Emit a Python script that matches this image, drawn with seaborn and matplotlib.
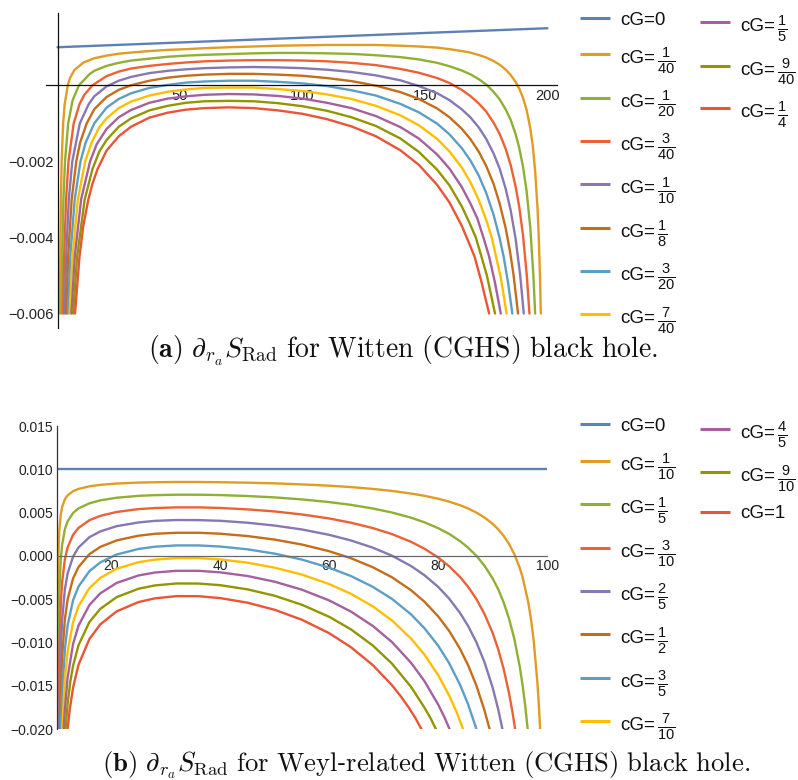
import matplotlib
matplotlib.use("Agg")
import matplotlib.pyplot as plt
import pandas as pd
import seaborn as sns
from matplotlib.lines import Line2D
from matplotlib.ticker import FixedLocator, MultipleLocator, FuncFormatter

# ---------------- panel (a): Witten (CGHS) ----------------
A_LABELS = ["cG=0", r"cG=$\frac{1}{40}$", r"cG=$\frac{1}{20}$", r"cG=$\frac{3}{40}$",
            r"cG=$\frac{1}{10}$", r"cG=$\frac{1}{8}$", r"cG=$\frac{3}{20}$",
            r"cG=$\frac{7}{40}$", r"cG=$\frac{1}{5}$", r"cG=$\frac{9}{40}$",
            r"cG=$\frac{1}{4}$"]

A0_X = [0, 50, 100, 150, 200]
A0_Y = [0.001, 0.001125, 0.00125, 0.001375, 0.0015]
A1_X = [1.00, 1.14, 1.39, 1.69, 2.30, 2.92, 4.19, 5.18, 6.89, 10.64, 15, 20, 25, 30, 37.5, 45, 52.5, 60,
        70, 80, 90, 100, 110, 120, 130, 140, 147.5, 155, 160, 165, 168.5, 172, 175, 178, 180.5, 183,
        185, 187, 188.5, 190, 191.5, 193, 194, 195, 196, 196.5, 197, 197.3]
A1_Y = [-0.006, -0.0045, -0.003, -0.002, -0.001, -0.0005, 0.0, 0.0002, 0.0004, 0.0006, 0.00071, 0.00078,
        0.00083, 0.00086, 0.0009, 0.00093, 0.00095, 0.000975, 0.001, 0.00102, 0.00104, 0.00105, 0.00106,
        0.00106, 0.00106, 0.00104, 0.00102, 0.00099, 0.00095, 0.0009, 0.00086, 0.000795, 0.00073,
        0.000638, 0.00054, 0.00041, 0.00027, 0.00009, -0.00009, -0.000325, -0.00065, -0.00113, -0.00159,
        -0.00226, -0.00329, -0.00406, -0.00512, -0.006]
A2_X = [1.63, 1.91, 2.42, 3.05, 4.36, 6.14, 8.75, 13.2, 15, 20, 25, 30, 37.5, 45, 52.5, 60, 70, 80, 90,
        100, 110, 120, 130, 140, 147.5, 155, 160, 165, 168.5, 172, 175, 178, 180.5, 183, 185, 187, 188.5,
        190, 191.5, 193, 194.26, 194.98]
A2_Y = [-0.006, -0.0045, -0.003, -0.002, -0.001, -0.0004, 0.0, 0.0003, 0.00038, 0.00051, 0.00059, 0.00065,
        0.0007, 0.00075, 0.00078, 0.0008, 0.00082, 0.00084, 0.00085, 0.00085, 0.00084, 0.000825, 0.00079,
        0.00074, 0.00068, 0.00059, 0.0005, 0.00039, 0.00029, 0.00016, 0.00002, -0.00017, -0.00037,
        -0.00064, -0.00091, -0.00128, -0.00165, -0.00213, -0.00278, -0.00374, -0.005, -0.006]
A3_X = [2.27, 2.71, 3.50, 4.49, 6.61, 8.96, 10.96, 14.27, 20, 25, 30, 37.5, 45, 52.5, 60, 70, 80, 90, 100,
        110, 120, 130, 140, 147.5, 155, 160, 165, 168.5, 172, 175, 178, 180.5, 183, 185, 187, 188.5, 190,
        191.58, 192.66]
A3_Y = [-0.006, -0.0045, -0.003, -0.002, -0.001, -0.0005, -0.00025, 0.0, 0.00024, 0.00036, 0.00044,
        0.00051, 0.00056, 0.0006, 0.00063, 0.00065, 0.00066, 0.00066, 0.00065, 0.00063, 0.00059, 0.00053,
        0.00043, 0.00033, 0.00019, 0.00006, -0.00012, -0.00028, -0.00048, -0.00069, -0.00098, -0.00128,
        -0.00168, -0.0021, -0.00266, -0.0032, -0.00393, -0.005, -0.006]
A4_X = [2.92, 3.52, 4.61, 6.03, 9.11, 12.69, 15, 20, 25, 30, 37.5, 45, 52.5, 60, 70, 80, 90, 100, 110, 120,
        130, 140, 147.5, 155, 160, 165, 168.5, 172, 175, 178, 180.5, 183, 185, 187, 188.89, 190.34]
A4_Y = [-0.006, -0.0045, -0.003, -0.002, -0.001, -0.0005, -0.00029, -0.00003, 0.00012, 0.00022, 0.00032,
        0.00038, 0.00042, 0.00045, 0.00047, 0.00048, 0.00047, 0.00045, 0.00041, 0.00035, 0.00026, 0.00013,
        -0.00002, -0.00021, -0.00039, -0.00063, -0.00084, -0.00111, -0.00141, -0.00179, -0.00219,
        -0.00273, -0.00329, -0.00403, -0.005, -0.006]
A5_X = [3.58, 4.36, 5.78, 7.66, 9.25, 11.93, 15, 20, 25, 30, 37.5, 45, 52.5, 60, 70, 80, 90, 100, 110, 120,
        130, 140, 147.5, 155, 160, 165, 168.5, 172, 175, 178, 180.5, 183, 184.8, 186.19, 188.0]
A5_Y = [-0.006, -0.0045, -0.003, -0.002, -0.0015, -0.001, -0.00063, -0.00031, -0.00012, 0.0, 0.00012,
        0.0002, 0.00025, 0.00028, 0.0003, 0.0003, 0.00028, 0.00025, 0.00019, 0.00011, -0.00001, -0.00018,
        -0.00036, -0.00061, -0.00084, -0.00114, -0.00141, -0.00175, -0.00212, -0.00259, -0.00311,
        -0.00377, -0.0044, -0.005, -0.006]
A6_X = [4.26, 5.22, 7.02, 9.38, 11.52, 15.0, 20, 25, 30, 37.5, 45, 52.5, 60, 70, 80, 90, 100, 110, 120, 130,
        140, 147.5, 155, 160, 165, 168.5, 172, 175, 178, 180.5, 182.11, 184, 185.66]
A6_Y = [-0.006, -0.0045, -0.003, -0.002, -0.0015, -0.001, -0.00059, -0.00036, -0.00021, -0.00007, 0.00001,
        0.00007, 0.0001, 0.00012, 0.00012, 0.00009, 0.00005, -0.00002, -0.00013, -0.00027, -0.00049,
        -0.00071, -0.00101, -0.00129, -0.00165, -0.00197, -0.00238, -0.00283, -0.0034, -0.00402, -0.0045,
        -0.00522, -0.006]
A7_X = [4.97, 6.12, 8.30, 11.3, 13.95, 17, 20, 25, 30, 37.5, 45, 52.5, 60, 70, 80, 90, 100, 110, 120, 130,
        140, 147.5, 155, 160, 165, 168.5, 172, 175, 177.26, 180.76, 182, 183.31]
A7_Y = [-0.006, -0.0045, -0.003, -0.002, -0.0015, -0.00111, -0.00087, -0.0006, -0.00043, -0.00027,
        -0.00017, -0.00011, -0.00007, -0.00006, -0.00006, -0.0001, -0.00015, -0.00024, -0.00036, -0.00054,
        -0.00079, -0.00105, -0.00141, -0.00174, -0.00216, -0.00254, -0.00302, -0.00354, -0.004, -0.005,
        -0.00546, -0.006]
A8_X = [5.68, 7.03, 9.64, 13.3, 16, 20, 25, 30, 37.5, 45, 52.5, 60, 70, 80, 90, 100, 110, 120, 130, 140,
        147.5, 155, 160, 165, 168.5, 171.39, 174, 176.19, 178.5, 180.96]
A8_Y = [-0.006, -0.0045, -0.003, -0.002, -0.00155, -0.00115, -0.00084, -0.00065, -0.00046, -0.00035,
        -0.00029, -0.00025, -0.00023, -0.00024, -0.00028, -0.00035, -0.00046, -0.0006, -0.00081, -0.0011,
        -0.0014, -0.00182, -0.00219, -0.00267, -0.0031, -0.0035, -0.00403, -0.0045, -0.00516, -0.006]
A9_X = [6.40, 8.0, 11.1, 14.29, 17, 20, 25, 30, 37.5, 45, 52.5, 60, 70, 80, 90, 100, 110, 120, 130, 140,
        147.5, 155, 160, 165, 168, 170.76, 173, 175.29, 178.6]
A9_Y = [-0.006, -0.0045, -0.003, -0.0022, -0.00175, -0.00144, -0.00109, -0.00087, -0.00066, -0.00054,
        -0.00046, -0.00042, -0.00041, -0.00042, -0.00047, -0.00055, -0.00067, -0.00084, -0.00107, -0.0014,
        -0.00175, -0.00222, -0.00263, -0.00318, -0.00359, -0.004, -0.00449, -0.005, -0.006]
A10_X = [7.14, 8.98, 10.52, 12.59, 14.2, 16.36, 20, 25, 30, 37.5, 45, 52.5, 60, 70, 80, 90, 100, 110, 120,
         130, 140, 147.5, 155, 160, 165, 168, 170.23, 173, 176.2]
A10_Y = [-0.006, -0.0045, -0.0037, -0.003, -0.0026, -0.0022, -0.00172, -0.00134, -0.00109, -0.00085,
         -0.00072, -0.00064, -0.0006, -0.00058, -0.0006, -0.00066, -0.00075, -0.00089, -0.00108, -0.00134,
         -0.00171, -0.00209, -0.00262, -0.00308, -0.00369, -0.00415, -0.0045, -0.00515, -0.006]

# ---------------- panel (b): Weyl-related Witten (CGHS) ----------------
B_LABELS = ["cG=0", r"cG=$\frac{1}{10}$", r"cG=$\frac{1}{5}$", r"cG=$\frac{3}{10}$",
            r"cG=$\frac{2}{5}$", r"cG=$\frac{1}{2}$", r"cG=$\frac{3}{5}$",
            r"cG=$\frac{7}{10}$", r"cG=$\frac{4}{5}$", r"cG=$\frac{9}{10}$", "cG=1"]

B0_X = [10, 100]
B0_Y = [0.01, 0.01]
B1_X = [10.09, 10.1, 10.2, 10.35, 10.5, 10.75, 11, 11.5, 12, 13, 14, 16, 18, 21, 25, 28, 32, 36, 40, 45,
        50, 55, 60, 64, 68, 71.5, 75, 77.5, 80, 82, 84, 85.5, 87, 88.5, 90, 91, 92, 93, 94, 95, 95.5, 96.5,
        97, 97.5, 98.2, 98.45, 98.7]
B1_Y = [-0.02, -0.01693, -0.00442, 0.00096, 0.00311, 0.00481, 0.00566, 0.00654, 0.00699, 0.00748, 0.00774,
        0.00804, 0.00821, 0.00836, 0.00847, 0.00851, 0.00854, 0.00854, 0.00851, 0.00846, 0.00838, 0.00826,
        0.00811, 0.00795, 0.00774, 0.00751, 0.00721, 0.00694, 0.00661, 0.00627, 0.00586, 0.00548, 0.00501,
        0.00444, 0.0037, 0.00308, 0.00233, 0.00139, 0.00017, -0.00145, -0.00249, -0.00526, -0.00717,
        -0.00963, -0.01459, -0.0170, -0.02]
B2_X = [10.19, 10.25, 10.35, 10.5, 10.75, 11, 11.5, 12, 13, 14, 16, 18, 21, 25, 28, 32, 36, 40, 45, 50, 55,
        60, 64, 68, 71.5, 75, 77.5, 80, 82, 84, 85.5, 87, 88.5, 90, 91, 92, 93, 94, 95, 95.5, 96, 96.42]
B2_Y = [-0.02, -0.01382, -0.00809, -0.00377, -0.00039, 0.00132, 0.00308, 0.00399, 0.00496, 0.00549,
        0.00608, 0.00642, 0.00672, 0.00694, 0.00702, 0.00707, 0.00707, 0.00703, 0.00692, 0.00676, 0.00653,
        0.00622, 0.0059, 0.00548, 0.00502, 0.00442, 0.00388, 0.00321, 0.00255, 0.00172, 0.00095, 0.00003,
        -0.00113, -0.0026, -0.00383, -0.00534, -0.00723, -0.00965, -0.0129, -0.01497, -0.01746, -0.02]
B3_X = [10.31, 10.4, 10.5, 10.75, 11, 11.5, 12, 13, 14, 16, 18, 21, 25, 28, 32, 36, 40, 45, 50, 55, 60, 64,
        68, 71.5, 75, 77.5, 80, 82, 84, 85.5, 87, 88.5, 90, 91, 92, 93, 93.6, 94.12]
B3_Y = [-0.02, -0.01444, -0.01066, -0.00558, -0.00301, -0.00038, 0.00098, 0.00244, 0.00324, 0.00413,
        0.00463, 0.00508, 0.00541, 0.00553, 0.00561, 0.00561, 0.00554, 0.00538, 0.00514, 0.00479, 0.00433,
        0.00384, 0.00322, 0.00253, 0.00164, 0.00083, -0.00018, -0.00118, -0.00242, -0.00357, -0.00496,
        -0.0067, -0.0089, -0.01075, -0.01301, -0.01584, -0.01791, -0.02]
B4_X = [10.44, 10.6, 10.75, 11, 11.5, 12, 13, 14, 16, 18, 21, 25, 28, 32, 36, 40, 45, 50, 55, 60, 64, 68,
        71.5, 75, 77.5, 80, 82, 84, 85.5, 87, 88.5, 90, 91, 91.79]
B4_Y = [-0.02, -0.01417, -0.01078, -0.00735, -0.00385, -0.00202, -0.00008, 0.00098, 0.00217, 0.00284,
        0.00344, 0.00387, 0.00405, 0.00415, 0.00414, 0.00406, 0.00384, 0.00351, 0.00306, 0.00244, 0.00179,
        0.00096, 0.00004, -0.00115, -0.00223, -0.00357, -0.00491, -0.00657, -0.00809, -0.00995, -0.01226,
        -0.01521, -0.01767, -0.02]
B5_X = [10.6, 10.75, 11, 11.5, 12, 13, 14, 16, 18, 21, 25, 28, 32, 36, 40, 45, 50, 55, 60, 64, 68, 71.5, 75,
        77.5, 80, 82, 84, 85.5, 87, 88.5, 89.44]
B5_Y = [-0.02, -0.01597, -0.01169, -0.00731, -0.00503, -0.0026, -0.00128, 0.00021, 0.00105, 0.0018,
        0.00234, 0.00256, 0.00268, 0.00268, 0.00257, 0.0023, 0.00189, 0.00132, 0.00055, -0.00026, -0.0013,
        -0.00245, -0.00394, -0.00529, -0.00697, -0.00864, -0.01071, -0.01262, -0.01494, -0.01783, -0.02]
B6_X = [10.8, 11, 11.5, 12, 13, 14, 16, 18, 21, 25, 28, 32, 36, 40, 45, 50, 55, 60, 64, 68, 71.5, 75, 77.5,
        80, 82, 84, 85.5, 87.03]
B6_Y = [-0.02, -0.01603, -0.01077, -0.00803, -0.00512, -0.00353, -0.00175, -0.00074, 0.00017, 0.00081,
        0.00107, 0.00122, 0.00122, 0.00109, 0.00077, 0.00027, -0.00042, -0.00135, -0.00232, -0.00356,
        -0.00494, -0.00673, -0.00835, -0.01036, -0.01236, -0.01485, -0.01714, -0.02]
B7_X = [11.02, 11.5, 12, 13, 14, 16, 18, 21, 25, 28, 32, 36, 40, 45, 50, 55, 60, 64, 68, 71.5, 75, 77.5, 80,
        82, 83.4, 84.58]
B7_Y = [-0.02, -0.01423, -0.01104, -0.00764, -0.00579, -0.00371, -0.00253, -0.00147, -0.00072, -0.00042,
        -0.00024, -0.00025, -0.0004, -0.00077, -0.00135, -0.00215, -0.00324, -0.00437, -0.00581, -0.00743,
        -0.00952, -0.0114, -0.01375, -0.01609, -0.01804, -0.02]
B8_X = [11.29, 11.5, 12, 13, 14, 16, 18, 21, 25, 28, 32, 36, 40, 45, 50, 55, 60, 64, 68, 71.5, 75, 77.5, 80,
        81.2, 82.1]
B8_Y = [-0.02, -0.01769, -0.01404, -0.01016, -0.00804, -0.00566, -0.00431, -0.00311, -0.00225, -0.00191,
        -0.00171, -0.00171, -0.00189, -0.00231, -0.00297, -0.00389, -0.00513, -0.00642, -0.00807, -0.00992,
        -0.01231, -0.01446, -0.01715, -0.01868, -0.02]
B9_X = [11.62, 12, 12.5, 13, 14, 16, 18, 21, 25, 28, 32, 36, 40, 45, 50, 55, 60, 64, 68, 71.5, 75, 77.5,
        78.6, 79.6]
B9_Y = [-0.02, -0.01705, -0.01448, -0.01268, -0.0103, -0.00762, -0.0061, -0.00475, -0.00378, -0.0034,
        -0.00317, -0.00318, -0.00337, -0.00385, -0.00459, -0.00563, -0.00702, -0.00847, -0.01033, -0.01241,
        -0.01509, -0.01752, -0.01872, -0.02]
B10_X = [12.0, 12.4, 13, 14, 16, 18, 21, 25, 28, 32, 36, 40, 45, 50, 55, 60, 64, 68, 71.5, 73, 74.5, 75.8,
         76.94]
B10_Y = [-0.02, -0.01768, -0.0152, -0.01255, -0.00958, -0.00789, -0.00639, -0.00532, -0.00489, -0.00463,
         -0.00464, -0.00486, -0.00539, -0.00621, -0.00736, -0.00891, -0.01053, -0.01259, -0.0149, -0.01608,
         -0.0174, -0.01868, -0.02]

A_CURVES = [(A0_X, A0_Y), (A1_X, A1_Y), (A2_X, A2_Y), (A3_X, A3_Y), (A4_X, A4_Y), (A5_X, A5_Y),
            (A6_X, A6_Y), (A7_X, A7_Y), (A8_X, A8_Y), (A9_X, A9_Y), (A10_X, A10_Y)]
B_CURVES = [(B0_X, B0_Y), (B1_X, B1_Y), (B2_X, B2_Y), (B3_X, B3_Y), (B4_X, B4_Y), (B5_X, B5_Y),
            (B6_X, B6_Y), (B7_X, B7_Y), (B8_X, B8_Y), (B9_X, B9_Y), (B10_X, B10_Y)]

COLORS = ["#5E81B5", "#E19C24", "#8FB032", "#EB6235", "#8778B3", "#C56E1A",
          "#5D9EC7", "#FFBF00", "#A5609D", "#929600", "#E95536"]

# ---------------- style ----------------
sns.set_style("white")
plt.rcParams["font.family"] = ["Liberation Sans", "DejaVu Sans"]
plt.rcParams["mathtext.fontset"] = "custom"
plt.rcParams["mathtext.rm"] = "Liberation Sans"
plt.rcParams["mathtext.it"] = "Liberation Sans:italic"
plt.rcParams["mathtext.bf"] = "Liberation Sans:bold"
plt.rcParams["axes.unicode_minus"] = True

W, H = 798, 780
fig = plt.figure(figsize=(W / 100, H / 100), dpi=100)


def frame(px_left, px_right, px_top, px_bottom):
    return [px_left / W, 1 - px_bottom / H, (px_right - px_left) / W, (px_bottom - px_top) / H]


def to_frame(curves, labels):
    parts = []
    for (xs, ys), lab in zip(curves, labels):
        parts.append(pd.DataFrame({"x": xs, "y": ys, "cG": lab}))
    return pd.concat(parts, ignore_index=True)


def fmt(v, pos):
    if abs(v) < 1e-12:
        return "0.000"
    return f"{v:.3f}".replace("-", "\u2212")


def style_axes(ax, origin_x, axis_color_x, axis_color_y):
    for s in ("top", "right"):
        ax.spines[s].set_visible(False)
    ax.spines["bottom"].set_position(("data", 0))
    ax.spines["left"].set_position(("data", origin_x))
    ax.spines["bottom"].set_color(axis_color_x)
    ax.spines["left"].set_color(axis_color_y)
    ax.spines["bottom"].set_linewidth(0.9)
    ax.spines["left"].set_linewidth(0.9)
    ax.tick_params(axis="x", which="both", direction="in", colors=axis_color_x, labelcolor="#222222")
    ax.tick_params(axis="y", which="both", direction="in", colors=axis_color_y, labelcolor="#222222")
    ax.tick_params(which="major", length=4.2, width=0.8, labelsize=10.5, pad=2.5)
    ax.tick_params(which="minor", length=2.3, width=0.6)
    ax.set_xlabel("")
    ax.set_ylabel("")
    ax.set_facecolor("none")
    ax.grid(False)


def legend_column(labels, colors, px_x, rows_px):
    for lab, col, yl in zip(labels, colors, rows_px):
        fig.add_artist(Line2D([px_x / W, (px_x + 30) / W], [1 - yl / H, 1 - yl / H],
                              transform=fig.transFigure, color=col, lw=2.2,
                              solid_capstyle="butt"))
        prefix, value = lab.split("=", 1)
        if value.startswith("$"):
            base = yl + 9.0
            fig.text((px_x + 40.5) / W, 1 - base / H, prefix + "=", ha="left", va="baseline",
                     fontsize=13.5, color="#111111")
            fig.text((px_x + 77.0) / W, 1 - (base + 3.2) / H, value, ha="left", va="baseline",
                     fontsize=15, color="#111111")
        else:
            base = yl + 6.8
            fig.text((px_x + 40.5) / W, 1 - base / H, lab, ha="left", va="baseline",
                     fontsize=13.5, color="#111111")


# ---------------- panel (a) ----------------
axA = fig.add_axes(frame(46, 556.5, 13, 328))
dfA = to_frame(A_CURVES, A_LABELS)
sns.lineplot(data=dfA, x="x", y="y", hue="cG", hue_order=A_LABELS,
             palette=dict(zip(A_LABELS, COLORS)), estimator=None, sort=False,
             legend=False, linewidth=1.7, ax=axA)
axA.set_xlim(-4.7, 203.7)
axA.set_ylim(-0.00638, 0.0019)
axA.xaxis.set_major_locator(FixedLocator([50, 100, 150, 200]))
axA.xaxis.set_minor_locator(FixedLocator([10, 20, 30, 40, 60, 70, 80, 90, 110, 120, 130, 140,
                                          160, 170, 180, 190]))
axA.yaxis.set_major_locator(FixedLocator([-0.006, -0.004, -0.002]))
axA.yaxis.set_minor_locator(FixedLocator([-0.0055, -0.005, -0.0045, -0.0035, -0.003, -0.0025,
                                          -0.0015, -0.001, -0.0005, 0.0005, 0.001, 0.0015]))
axA.yaxis.set_major_formatter(FuncFormatter(fmt))
style_axes(axA, 0, "#111111", "#111111")

# ---------------- panel (b) ----------------
axB = fig.add_axes(frame(56.7, 547.2, 426, 729.3))
dfB = to_frame(B_CURVES, B_LABELS)
sns.lineplot(data=dfB, x="x", y="y", hue="cG", hue_order=B_LABELS,
             palette=dict(zip(B_LABELS, COLORS)), estimator=None, sort=False,
             legend=False, linewidth=1.7, ax=axB)
axB.set_xlim(10, 100)
axB.set_ylim(-0.020, 0.015)
axB.xaxis.set_major_locator(FixedLocator([20, 40, 60, 80, 100]))
axB.xaxis.set_minor_locator(MultipleLocator(5))
axB.yaxis.set_major_locator(MultipleLocator(0.005))
axB.yaxis.set_minor_locator(MultipleLocator(0.001))
axB.yaxis.set_major_formatter(FuncFormatter(fmt))
style_axes(axB, 10, "#6a6a6a", "#333333")
axB.tick_params(which="major", labelsize=10)

# ---------------- legends ----------------
A_ROWS1 = [18.3, 54.3, 97.7, 141.0, 184.3, 227.7, 271.0, 314.3]
A_ROWS2 = [22.3, 65.7, 108.3]
B_ROWS1 = [424.3, 461.0, 504.3, 547.7, 591.0, 634.3, 677.7, 721.0]
B_ROWS2 = [429.0, 472.3, 511.7]
legend_column(A_LABELS[:8], COLORS[:8], 580, A_ROWS1)
legend_column(A_LABELS[8:], COLORS[8:], 700, A_ROWS2)
legend_column(B_LABELS[:8], COLORS[:8], 580, B_ROWS1)
legend_column(B_LABELS[8:], COLORS[8:], 700, B_ROWS2)

# ---------------- captions ----------------
fig.text(403 / W, 1 - 351 / H,
         r"$\mathbf{(a)}\ \partial_{r_a}S_{\mathrm{Rad}}\ \mathrm{for\ Witten\ (CGHS)\ black\ hole.}$",
         ha="center", va="center", fontsize=20, math_fontfamily="cm", color="#111111")
fig.text(426 / W, 1 - 765 / H,
         r"$\mathbf{(b)}\ \partial_{r_a}S_{\mathrm{Rad}}\ \mathrm{for\ Weyl}$-$\mathrm{related\ Witten\ (CGHS)\ black\ hole.}$",
         ha="center", va="center", fontsize=19.2, math_fontfamily="cm", color="#111111")

fig.savefig("out.png", dpi=100, facecolor="white")
